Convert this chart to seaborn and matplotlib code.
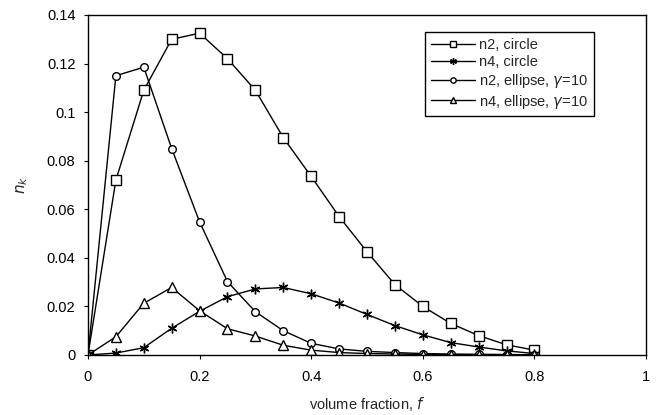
import numpy as np
import pandas as pd
import matplotlib
matplotlib.use("Agg")
import matplotlib.pyplot as plt
import seaborn as sns

# Dados
f = [0, 0.05, 0.1, 0.15, 0.2, 0.25, 0.3, 0.35, 0.4, 0.45, 0.5, 0.55, 0.6, 0.65, 0.7, 0.75, 0.8]
n2_circle = [0, 0.072, 0.109, 0.130, 0.1325, 0.122, 0.109, 0.0895, 0.0735, 0.057, 0.0425,
             0.029, 0.020, 0.013, 0.008, 0.0042, 0.002]
n4_circle = [0, 0.0008, 0.003, 0.011, 0.018, 0.024, 0.0272, 0.0278, 0.0252, 0.0214, 0.0167,
             0.0121, 0.0083, 0.0051, 0.0033, 0.0017, 0.0006]
n2_ellipse = [0, 0.115, 0.1185, 0.085, 0.0548, 0.0302, 0.0178, 0.0100, 0.0048, 0.0025, 0.0015,
              0.0010, 0.0006, 0.0004, 0.0003, 0.0002, 0.0001]
n4_ellipse = [0, 0.0075, 0.0213, 0.0278, 0.0182, 0.0108, 0.0078, 0.0040, 0.0020, 0.0010, 0.0006,
              0.0004, 0.0002, 0.0001, 0.0001, 0.0001, 0.0]

series = ["n2, circle", "n4, circle", r"n2, ellipse, $\gamma$=10", r"n4, ellipse, $\gamma$=10"]
values = [n2_circle, n4_circle, n2_ellipse, n4_ellipse]
marcadores = ["s", (6, 2, 0), "o", "^"]
tamanhos = [6.5, 7, 5.5, 6.5]

sns.set_style("white")
plt.rcParams["font.family"] = ["Liberation Sans", "DejaVu Sans"]
plt.rcParams["mathtext.fontset"] = "dejavusans"

fig = plt.figure(figsize=(6.58, 4.15), dpi=100)
ax = fig.add_axes([0.1337, 0.1446, 0.8481, 0.8193])

for nome, vals, m, ms in zip(series, values, marcadores, tamanhos):
    df = pd.DataFrame({"f": f, "n": vals})
    sns.lineplot(data=df, x="f", y="n", ax=ax, color="black", linewidth=1.0,
                 marker=m, markersize=ms, markerfacecolor="white",
                 markeredgecolor="black", markeredgewidth=1.0, label=nome)

ax.set_xlim(0, 1)
ax.set_ylim(0, 0.14)
ax.set_xticks([0, 0.2, 0.4, 0.6, 0.8, 1])
ax.set_xticklabels(["0", "0.2", "0.4", "0.6", "0.8", "1"])
ax.set_yticks([0, 0.02, 0.04, 0.06, 0.08, 0.1, 0.12, 0.14])
ax.set_yticklabels(["0", "0.02", "0.04", "0.06", "0.08", "0.1", "0.12", "0.14"])
ax.tick_params(axis="both", labelsize=10.5, colors="black", length=3, width=0.8,
               direction="out")
ax.tick_params(axis="x", bottom=True, pad=8)
ax.tick_params(axis="y", left=True, pad=6)

for s in ax.spines.values():
    s.set_color("black")
    s.set_linewidth(1.0)

ax.set_xlabel(r"volume fraction, $f$", fontsize=10.5, labelpad=8)
ax.set_ylabel(r"$n_k$", fontsize=11, labelpad=12)

leg = ax.legend(loc="upper left", bbox_to_anchor=(0.604, 0.95), fontsize=10.5,
                frameon=True, fancybox=False, edgecolor="black", framealpha=1,
                handlelength=3.0, handletextpad=0.3, borderpad=0.4, labelspacing=0.2,
                borderaxespad=0, markerscale=0.7)
leg.get_frame().set_linewidth(1.0)

fig.savefig("out.png", dpi=100)
